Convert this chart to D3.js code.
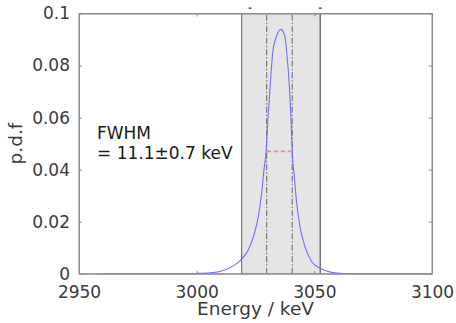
<!DOCTYPE html>
<html>
<head>
<meta charset="utf-8">
<script src="https://cdn.jsdelivr.net/npm/d3@7"></script>
<style>
  html, body { margin: 0; padding: 0; background: #fff; }
  svg { display: block; font-family: "DejaVu Sans", sans-serif; }
</style>
</head>
<body>
<svg id="chart" width="456" height="323"></svg>
<script>
// Energy spectrum p.d.f (keV vs density)
const energy = [2960, 2990, 3000, 3005.7, 3011.3, 3015.6, 3019.4, 3021.9, 3024.1, 3026.2, 3027.6, 3028.6, 3029.5, 3030.2, 3031.2, 3032.3, 3034.0, 3035.8, 3037.5, 3038.3, 3039.4, 3040.1, 3040.6, 3041.5, 3042.5, 3043.9, 3046.0, 3048.9, 3052.4, 3057.4, 3062.3, 3070, 3100];
const density = [0, 0, 0.0001, 0.0003, 0.0012, 0.0030, 0.0059, 0.0091, 0.0142, 0.0219, 0.0309, 0.0399, 0.0469, 0.0580, 0.0719, 0.0847, 0.0915, 0.0939, 0.0912, 0.0847, 0.0719, 0.0591, 0.0469, 0.0373, 0.0271, 0.0181, 0.0104, 0.0046, 0.0021, 0.0005, 0.0001, 0, 0];

// Shaded window and FWHM limits (keV)
const windowRange = [3019.1, 3052.5];
const fwhmEdges = [3029.75, 3040.6];
const halfMax = 0.047;

const xTicks = [2950, 3000, 3050, 3100];
const yTicks = [0, 0.02, 0.04, 0.06, 0.08, 0.1];
const yTickLabels = ["0", "0.02", "0.04", "0.06", "0.08", "0.1"];
const annotation = ["FWHM", "= 11.1\u00b10.7 keV"];

const svg = d3.select("#chart");
const m = { left: 79, right: 24, top: 13.5, bottom: 49.3 };
const W = 456, H = 323;
const x = d3.scaleLinear().domain([2950, 3100]).range([m.left, W - m.right]);
const y = d3.scaleLinear().domain([0, 0.1]).range([H - m.bottom, m.top]);

const axisColor = "#8a8a8a";
const textColor = "#3a3a3a";

// shaded window
svg.append("rect")
  .attr("x", x(windowRange[0])).attr("y", y(0.1))
  .attr("width", x(windowRange[1]) - x(windowRange[0]))
  .attr("height", y(0) - y(0.1))
  .attr("fill", "#e5e5e5");
svg.append("line")
  .attr("x1", x(windowRange[0])).attr("x2", x(windowRange[0]))
  .attr("y1", y(0)).attr("y2", y(0.1))
  .attr("stroke", "#7a7a7a").attr("stroke-width", 1.2);
svg.append("line")
  .attr("x1", x(windowRange[1])).attr("x2", x(windowRange[1]))
  .attr("y1", y(0)).attr("y2", y(0.1))
  .attr("stroke", "#555").attr("stroke-width", 1.2);

// small markers above the frame
svg.selectAll("rect.mark")
  .data([3022.7, windowRange[1]])
  .join("rect").attr("class", "mark")
  .attr("x", d => x(d) - 1.5).attr("y", 7.5)
  .attr("width", 3).attr("height", 1.3)
  .attr("fill", "#333");

// FWHM dash-dot lines
svg.selectAll("line.fwhm")
  .data(fwhmEdges)
  .join("line").attr("class", "fwhm")
  .attr("x1", d => x(d)).attr("x2", d => x(d))
  .attr("y1", y(0)).attr("y2", y(0.1))
  .attr("stroke", "#444").attr("stroke-width", 0.8)
  .attr("stroke-dasharray", "6,2,1.5,2");

// curve
const line = d3.line()
  .x((d, i) => x(energy[i]))
  .y(d => y(d))
  .curve(d3.curveMonotoneX);
svg.append("path")
  .datum(density)
  .attr("d", line)
  .attr("fill", "none")
  .attr("stroke", "#6f6fff")
  .attr("stroke-width", 1.1);

// half-maximum marker
svg.append("line")
  .attr("x1", x(fwhmEdges[0])).attr("x2", x(fwhmEdges[1]))
  .attr("y1", y(halfMax)).attr("y2", y(halfMax))
  .attr("stroke", "#ee8c8c").attr("stroke-width", 1.6)
  .attr("stroke-dasharray", "4.5,2.5");

// frame
svg.append("rect")
  .attr("x", m.left).attr("y", m.top)
  .attr("width", W - m.right - m.left).attr("height", H - m.bottom - m.top)
  .attr("fill", "none").attr("stroke", axisColor).attr("stroke-width", 1);

// axes with inward ticks
const xAxis = svg.append("g").attr("transform", `translate(0,${y(0)})`)
  .call(d3.axisBottom(x).tickValues(xTicks).tickSizeInner(-3).tickSizeOuter(0).tickPadding(12).tickFormat(d3.format("d")));
const xAxisTop = svg.append("g").attr("transform", `translate(0,${y(0.1)})`)
  .call(d3.axisTop(x).tickValues(xTicks).tickSizeInner(-3).tickSizeOuter(0).tickFormat(""));
const yAxis = svg.append("g").attr("transform", `translate(${m.left},0)`)
  .call(d3.axisLeft(y).tickValues(yTicks).tickSizeInner(-3).tickSizeOuter(0).tickPadding(9)
    .tickFormat((d, i) => yTickLabels[i]));
const yAxisRight = svg.append("g").attr("transform", `translate(${W - m.right},0)`)
  .call(d3.axisRight(y).tickValues(yTicks).tickSizeInner(-3).tickSizeOuter(0).tickFormat(""));

[xAxis, xAxisTop, yAxis, yAxisRight].forEach(g => {
  g.select(".domain").attr("stroke", axisColor);
  g.selectAll(".tick line").attr("stroke", axisColor);
  g.selectAll(".tick text").attr("fill", textColor)
    .style("font-family", "'DejaVu Sans', sans-serif").style("font-size", "17px");
});

// axis titles
svg.append("text")
  .attr("x", (m.left + W - m.right) / 2).attr("y", 315)
  .attr("text-anchor", "middle").attr("fill", textColor)
  .style("font-size", "18.5px").text("Energy / keV");
svg.append("text")
  .attr("transform", `translate(22,${(m.top + H - m.bottom) / 2}) rotate(-90)`)
  .attr("text-anchor", "middle").attr("fill", textColor)
  .style("font-size", "18.5px").text("p.d.f");

// annotation
svg.selectAll("text.note")
  .data(annotation)
  .join("text").attr("class", "note")
  .attr("x", 97).attr("y", (d, i) => 139 + i * 19.5)
  .attr("fill", "#1a1a1a").style("font-size", "17px")
  .text(d => d);
</script>
</body>
</html>
